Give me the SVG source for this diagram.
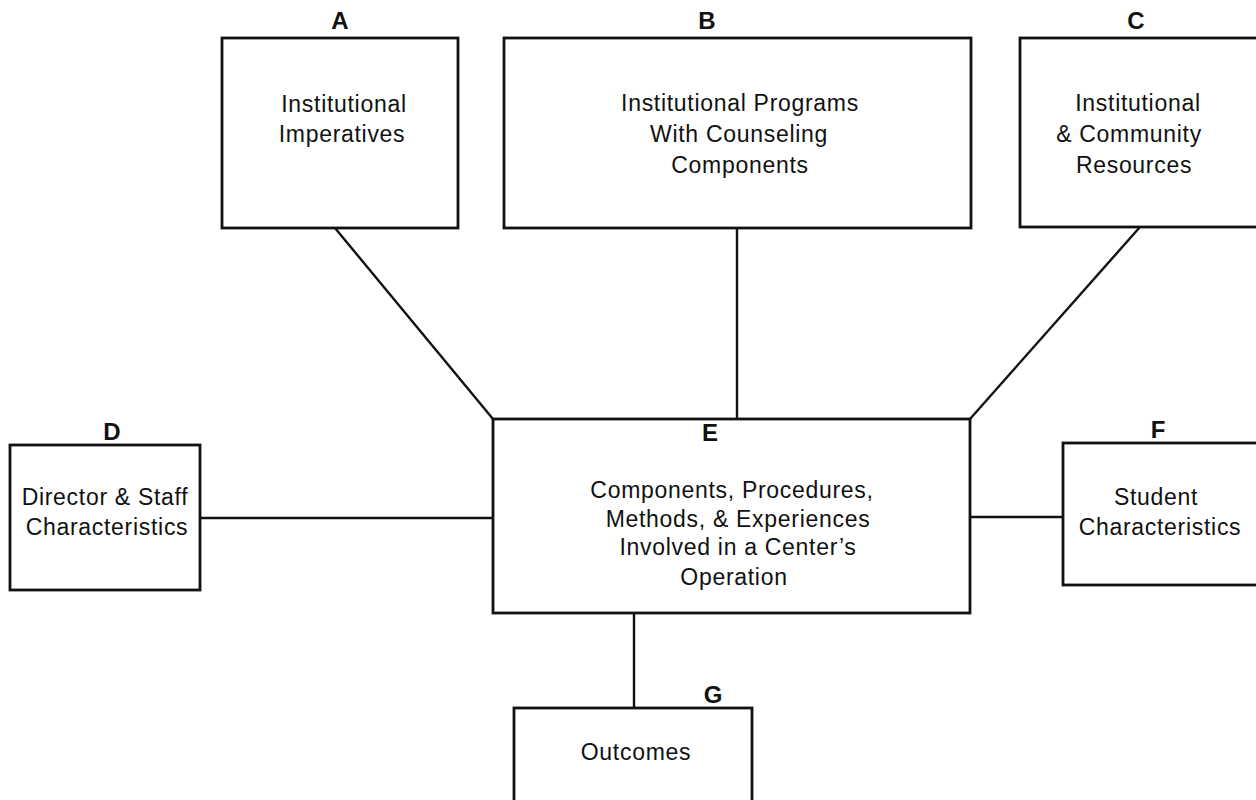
<svg xmlns="http://www.w3.org/2000/svg" width="1256" height="800" viewBox="0 0 1256 800">
  <style>
    .box { fill: #ffffff; stroke: #111111; stroke-width: 2.8; }
    .link { stroke: #111111; stroke-width: 2.4; fill: none; }
    .txt { font-family: "Liberation Sans", Arial, sans-serif; font-size: 23px; letter-spacing: 0.7px; fill: #111111; text-anchor: middle; }
    .tag { font-family: "Liberation Sans", Arial, sans-serif; font-size: 24px; font-weight: bold; fill: #111111; text-anchor: middle; }
  </style>
  <rect width="1256" height="800" fill="#ffffff"/>

  <!-- connectors -->
  <g id="connectors">
    <line class="link" x1="335" y1="228" x2="493" y2="419"/>
    <line class="link" x1="737" y1="228" x2="737" y2="419"/>
    <line class="link" x1="1140" y1="227" x2="970" y2="419"/>
    <line class="link" x1="200" y1="518" x2="493" y2="518"/>
    <line class="link" x1="970" y1="517" x2="1063" y2="517"/>
    <line class="link" x1="634" y1="613" x2="634" y2="708"/>
  </g>

  <g id="node-a">
    <rect class="box" x="222" y="38" width="236" height="190"/>
    <text class="tag" x="340" y="29">A</text>
    <text class="txt" x="344" y="112">Institutional</text>
    <text class="txt" x="342" y="142">Imperatives</text>
  </g>

  <g id="node-b">
    <rect class="box" x="504" y="38" width="467" height="190"/>
    <text class="tag" x="707" y="29">B</text>
    <text class="txt" x="740" y="111">Institutional Programs</text>
    <text class="txt" x="739" y="142">With Counseling</text>
    <text class="txt" x="740" y="173">Components</text>
  </g>

  <g id="node-c">
    <rect class="box" x="1020" y="38" width="240" height="189"/>
    <text class="tag" x="1136" y="29">C</text>
    <text class="txt" x="1138" y="111">Institutional</text>
    <text class="txt" x="1129" y="142">&amp; Community</text>
    <text class="txt" x="1134" y="173">Resources</text>
  </g>

  <g id="node-d">
    <rect class="box" x="10" y="445" width="190" height="145"/>
    <text class="tag" x="112" y="440">D</text>
    <text class="txt" x="105" y="505">Director &amp; Staff</text>
    <text class="txt" x="107" y="535">Characteristics</text>
  </g>

  <g id="node-e">
    <rect class="box" x="493" y="419" width="477" height="194"/>
    <text class="tag" x="710" y="441">E</text>
    <text class="txt" x="732" y="498">Components, Procedures,</text>
    <text class="txt" x="738" y="527">Methods, &amp; Experiences</text>
    <text class="txt" x="738" y="555">Involved in a Center’s</text>
    <text class="txt" x="734" y="585">Operation</text>
  </g>

  <g id="node-f">
    <rect class="box" x="1063" y="443" width="200" height="142"/>
    <text class="tag" x="1158" y="438">F</text>
    <text class="txt" x="1156" y="505">Student</text>
    <text class="txt" x="1160" y="535">Characteristics</text>
  </g>

  <g id="node-g">
    <rect class="box" x="514" y="708" width="238" height="100"/>
    <text class="tag" x="713" y="703">G</text>
    <text class="txt" x="636" y="760">Outcomes</text>
  </g>
</svg>
